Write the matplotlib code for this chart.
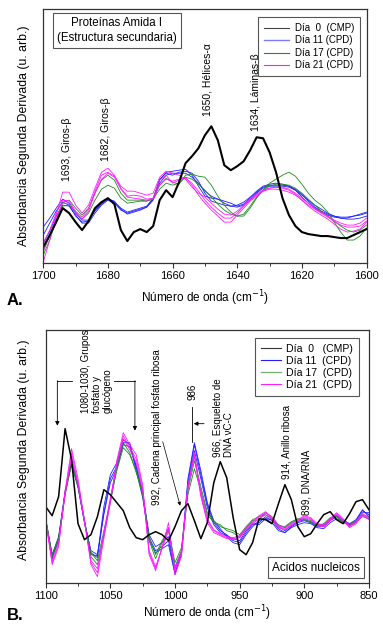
import matplotlib
matplotlib.use('Agg')
import matplotlib.pyplot as plt
from matplotlib.ticker import MultipleLocator

plt.rcParams['font.family'] = ['Liberation Sans', 'DejaVu Sans']

# ---------------- Panel A: Amida I (1700-1600 cm-1), second derivative (u. arb.)
wn_a = [1700, 1698, 1696, 1694, 1692, 1690, 1688, 1686, 1684, 1682,
        1680, 1678, 1676, 1674, 1672, 1670, 1668, 1666, 1664, 1662,
        1660, 1658, 1656, 1654, 1652, 1650, 1648, 1646, 1644, 1642,
        1640, 1638, 1636, 1634, 1632, 1630, 1628, 1626, 1624, 1622,
        1620, 1618, 1616, 1614, 1612, 1610, 1608, 1606, 1604, 1602, 1600]

a_dia0 = [16, 28, 41, 55, 50, 41, 33, 42, 55, 61, 65, 59, 33, 22, 31, 34, 31, 37, 63, 73,
          66, 81, 100, 107, 115, 128, 137, 123, 98, 93, 97, 102, 113, 126, 125, 111, 91, 65, 48, 37,
          31, 29, 28, 27, 27, 26, 25, 25, 28, 31, 34]

a_dia11 = [
    [36, 45, 55, 64, 60, 50, 43, 43, 53, 60, 65, 61, 55, 51, 53, 55, 57, 65, 83, 91,
     92, 93, 94, 88, 77, 67, 65, 64, 62, 60, 57, 59, 65, 71, 76, 78, 78, 78, 77, 73,
     66, 60, 55, 51, 48, 46, 45, 45, 47, 49, 51],
    [20, 32, 47, 58, 57, 48, 40, 40, 50, 58, 63, 60, 53, 50, 52, 54, 56, 63, 80, 88,
     90, 90, 90, 86, 80, 72, 67, 64, 60, 57, 56, 58, 63, 70, 75, 77, 77, 77, 76, 73,
     68, 63, 58, 54, 50, 47, 45, 44, 44, 45, 47],
    [28, 40, 52, 61, 58, 47, 41, 42, 52, 59, 64, 62, 54, 49, 51, 53, 56, 64, 84, 90,
     88, 91, 92, 90, 82, 70, 62, 60, 58, 57, 58, 61, 66, 72, 77, 79, 80, 79, 77, 74,
     69, 62, 56, 52, 49, 47, 46, 46, 47, 48, 50],
]

a_dia17 = [
    [8, 23, 43, 61, 63, 55, 48, 55, 70, 83, 88, 83, 70, 63, 63, 63, 62, 65, 78, 85,
     81, 79, 88, 89, 87, 86, 78, 67, 58, 51, 47, 47, 55, 65, 73, 80, 84, 88, 91, 87,
     79, 70, 63, 58, 51, 41, 31, 23, 23, 27, 35],
    [12, 27, 45, 57, 58, 51, 44, 50, 63, 74, 78, 75, 65, 60, 61, 62, 62, 64, 74, 80,
     78, 80, 86, 84, 79, 73, 66, 59, 53, 49, 47, 49, 57, 66, 73, 77, 79, 79, 78, 75,
     70, 64, 58, 52, 47, 42, 37, 33, 31, 33, 38],
]

a_dia21 = [
    [1, 23, 48, 71, 71, 58, 50, 58, 75, 91, 95, 88, 75, 67, 68, 67, 64, 65, 83, 88,
     80, 83, 86, 78, 68, 60, 53, 47, 41, 41, 48, 55, 62, 67, 72, 75, 76, 75, 73, 69,
     63, 57, 52, 48, 44, 39, 34, 31, 32, 34, 41],
    [20, 33, 50, 63, 62, 52, 46, 54, 72, 88, 91, 87, 77, 72, 72, 70, 68, 70, 86, 92,
     90, 88, 84, 76, 70, 66, 60, 54, 49, 48, 52, 58, 64, 69, 73, 75, 76, 76, 74, 70,
     65, 60, 55, 51, 47, 43, 40, 38, 38, 40, 45],
    [12, 28, 45, 60, 60, 50, 44, 52, 70, 84, 90, 86, 74, 66, 65, 64, 63, 64, 78, 84,
     82, 84, 85, 80, 72, 63, 56, 50, 45, 45, 50, 57, 63, 68, 72, 74, 74, 73, 71, 68,
     63, 58, 54, 50, 46, 42, 38, 36, 36, 37, 42],
]

# ---------------- Panel B: Acidos nucleicos (1100-850 cm-1)
wn_b = [1100, 1095, 1090, 1085, 1080, 1075, 1070, 1065, 1060, 1055,
        1050, 1045, 1040, 1035, 1030, 1025, 1020, 1015, 1010, 1005,
        1000, 995, 990, 985, 980, 975, 970, 965, 960, 955,
        950, 945, 940, 935, 930, 925, 920, 915, 910, 905,
        900, 895, 890, 885, 880, 875, 870, 865, 860, 855, 850]

b_dia0 = [76, 67, 86, 154, 123, 59, 43, 48, 66, 93, 88, 80, 72, 55, 45, 43, 48, 51, 48, 42,
          56, 72, 79, 62, 44, 60, 100, 121, 105, 65, 33, 28, 40, 64, 63, 59, 79, 98, 83, 56,
          46, 49, 59, 68, 71, 63, 59, 69, 81, 83, 73]

b_dia11 = [
    [63, 26, 42, 88, 122, 98, 62, 30, 25, 70, 104, 116, 140, 140, 115, 88, 45, 32, 36, 42,
     10, 28, 100, 138, 108, 78, 60, 52, 48, 42, 40, 50, 58, 60, 66, 62, 54, 50, 56, 60,
     62, 60, 56, 56, 62, 66, 62, 58, 62, 72, 68],
    [62, 24, 44, 90, 120, 97, 60, 28, 27, 76, 108, 120, 143, 138, 112, 85, 42, 30, 34, 38,
     8, 30, 104, 140, 112, 80, 62, 54, 46, 40, 38, 48, 56, 62, 64, 60, 52, 50, 55, 58,
     60, 59, 55, 54, 60, 64, 61, 57, 60, 70, 70],
    [64, 28, 46, 92, 118, 95, 60, 32, 28, 68, 100, 114, 138, 136, 117, 90, 48, 36, 40, 46,
     14, 30, 96, 132, 104, 75, 58, 50, 47, 44, 42, 52, 59, 58, 64, 63, 56, 52, 57, 61,
     63, 61, 57, 57, 63, 67, 63, 59, 63, 73, 66],
]

b_dia17 = [
    [64, 28, 45, 88, 118, 96, 62, 30, 22, 52, 82, 112, 135, 128, 112, 88, 46, 28, 42, 52,
     20, 35, 88, 114, 92, 68, 60, 58, 52, 50, 45, 55, 62, 63, 70, 66, 58, 55, 60, 63,
     64, 62, 58, 58, 64, 66, 60, 58, 62, 68, 66],
    [63, 26, 43, 90, 122, 98, 62, 26, 18, 48, 80, 115, 140, 130, 110, 90, 42, 24, 40, 55,
     16, 32, 92, 122, 96, 70, 62, 56, 54, 52, 48, 56, 63, 66, 68, 64, 57, 56, 61, 64,
     63, 60, 57, 59, 65, 67, 61, 57, 61, 66, 64],
]

b_dia21 = [
    [63, 20, 38, 90, 130, 100, 62, 20, 10, 48, 82, 120, 147, 135, 124, 95, 30, 14, 35, 55,
     12, 29, 96, 128, 88, 62, 52, 48, 45, 44, 46, 54, 60, 66, 70, 64, 56, 54, 58, 62,
     66, 64, 58, 57, 63, 69, 63, 56, 60, 68, 64],
    [62, 18, 36, 92, 134, 104, 62, 18, 6, 44, 80, 122, 150, 138, 128, 98, 28, 12, 36, 60,
     8, 26, 94, 130, 90, 64, 53, 49, 46, 45, 47, 55, 61, 67, 71, 65, 57, 55, 59, 63,
     67, 65, 59, 58, 64, 70, 64, 57, 61, 69, 65],
    [64, 22, 40, 88, 126, 98, 60, 22, 14, 50, 85, 118, 144, 133, 120, 92, 32, 16, 34, 52,
     14, 32, 98, 126, 86, 60, 50, 47, 44, 43, 45, 53, 59, 64, 68, 63, 55, 53, 57, 61,
     65, 63, 57, 56, 62, 68, 62, 55, 59, 67, 63],
]

c_blue = '#1f1fff'
c_green = '#1e8c1e'
c_mag = '#ff1aff'
spine_c = '#333333'

fig = plt.figure(figsize=(3.83, 6.33), dpi=100)
axA = fig.add_axes([0.113, 0.5845, 0.844, 0.402])
axB = fig.add_axes([0.1193, 0.0795, 0.844, 0.3992])


def style_axes(ax, major, minor):
    for s in ax.spines.values():
        s.set_color(spine_c)
        s.set_linewidth(0.9)
    ax.set_yticks([])
    ax.xaxis.set_major_locator(MultipleLocator(major))
    ax.xaxis.set_minor_locator(MultipleLocator(minor))
    ax.tick_params(axis='x', which='major', direction='out', length=3.5, width=0.8,
                   labelsize=8, pad=2.5, color=spine_c)
    ax.tick_params(axis='x', which='minor', direction='out', length=2.2, width=0.7, color=spine_c)


# ---- Panel A
for y in a_dia11:
    axA.plot(wn_a, y, color=c_blue, lw=0.6)
for y in a_dia17:
    axA.plot(wn_a, y, color=c_green, lw=0.6)
for y in a_dia21:
    axA.plot(wn_a, y, color=c_mag, lw=0.6)
axA.plot(wn_a, a_dia0, color='black', lw=1.5)

axA.set_xlim(1700, 1600)
axA.set_ylim(0, 255)
style_axes(axA, 20, 10)
axA.set_xlabel('Número de onda (cm$^{-1}$)', fontsize=8.5)
axA.xaxis.set_label_coords(0.5, -0.1)
axA.set_ylabel('Absorbancia Segunda Derivada (u. arb.)', fontsize=8.8)
axA.yaxis.set_label_coords(-0.04, 0.5)

hA = [plt.Line2D([], [], color='#444444', lw=0.8),
      plt.Line2D([], [], color='#7b7bff', lw=1.0),
      plt.Line2D([], [], color=c_green, lw=0.8),
      plt.Line2D([], [], color=c_mag, lw=0.8)]
legA = axA.legend(hA, ['Día  0  (CMP)', 'Día 11 (CPD)', 'Día 17 (CPD)', 'Día 21 (CPD)'],
                  loc='upper right', bbox_to_anchor=(0.995, 0.985), fontsize=7,
                  handlelength=2.6, handletextpad=0.6, labelspacing=0.25,
                  borderpad=0.6, fancybox=False, framealpha=1)
legA.get_frame().set_edgecolor('#555555')
legA.get_frame().set_linewidth(0.8)

axA.text(0.228, 0.914, 'Proteínas Amida I\n(Estructura secundaria)', transform=axA.transAxes,
         ha='center', va='center', fontsize=8.3, linespacing=1.25,
         bbox=dict(boxstyle='square,pad=0.35', fc='white', ec='#555555', lw=0.8))

annA = [(1692.8, 82, '1693, Giros-β'),
        (1680.7, 102, '1682, Giros-β'),
        (1649.3, 147, '1650, Hélices-α'),
        (1634.3, 132, '1634, Láminas-β')]
for x, y, s in annA:
    axA.text(x, y, s, rotation=90, ha='center', va='bottom', fontsize=7.5)

fig.text(0.018, 0.525, 'A.', fontsize=12, fontweight='bold', va='center')

# ---- Panel B
for y in b_dia11:
    axB.plot(wn_b, y, color=c_blue, lw=0.6)
for y in b_dia17:
    axB.plot(wn_b, y, color=c_green, lw=0.6)
for y in b_dia21:
    axB.plot(wn_b, y, color=c_mag, lw=0.6)
axB.plot(wn_b, b_dia0, color='black', lw=1.1)

axB.set_xlim(1100, 850)
axB.set_ylim(0, 252.7)
style_axes(axB, 50, 25)
axB.set_xlabel('Número de onda (cm$^{-1}$)', fontsize=8.5)
axB.xaxis.set_label_coords(0.5, -0.082)
axB.set_ylabel('Absorbancia Segunda Derivada (u. arb.)', fontsize=8.8)
axB.yaxis.set_label_coords(-0.047, 0.525)

hB = [plt.Line2D([], [], color='#333333', lw=0.8),
      plt.Line2D([], [], color=c_blue, lw=0.8),
      plt.Line2D([], [], color='#6fb36f', lw=0.9),
      plt.Line2D([], [], color=c_mag, lw=0.8)]
legB = axB.legend(hB, ['Día  0   (CMP)', 'Día 11  (CPD)', 'Día 17  (CPD)', 'Día 21  (CPD)'],
                  loc='upper right', bbox_to_anchor=(0.985, 0.99), fontsize=7.6,
                  handlelength=1.9, handletextpad=0.5, labelspacing=0.2,
                  borderpad=0.55, fancybox=False, framealpha=1)
legB.get_frame().set_edgecolor('#555555')
legB.get_frame().set_linewidth(0.8)

axB.text(0.836, 0.06, 'Acidos nucleicos', transform=axB.transAxes, ha='center', va='center',
         fontsize=8.5, bbox=dict(boxstyle='square,pad=0.35', fc='white', ec='#555555', lw=0.8))

annB = [(1060.5, 170, '1080-1030, Grupos\nfosfato y\nglucógeno'),
        (986.5, 183, '986'),
        (962.5, 126, '966, Esqueleto de\nDNA νC-C'),
        (1014, 78, '992, Cadena principal fosfato ribosa'),
        (914, 104, '914, Anillo ribosa'),
        (898, 68, '899, DNA/RNA')]
for x, y, s in annB:
    axB.text(x, y, s, rotation=90, ha='center', va='bottom', fontsize=7,
             multialignment='left', linespacing=1.1)

arr = dict(arrowstyle='-|>', lw=0.6, color='black', mutation_scale=6, shrinkA=0, shrinkB=0)
# bracket for 1080-1030
axB.plot([1080, 1091], [202, 202], color='black', lw=0.6)
axB.annotate('', xy=(1091, 157), xytext=(1091, 202), arrowprops=arr)
axB.plot([1047.5, 1031], [202, 202], color='black', lw=0.6)
axB.annotate('', xy=(1031, 152), xytext=(1031, 202), arrowprops=arr)
# 986 marker
axB.plot([987, 987], [141, 176], color='black', lw=0.6)
axB.annotate('', xy=(985.5, 159), xytext=(977.5, 159), arrowprops=arr)
# 992 arrow
axB.annotate('', xy=(996, 77), xytext=(1009.5, 141),
             arrowprops=dict(arrowstyle='-|>', lw=0.5, color='black', mutation_scale=5,
                             shrinkA=0, shrinkB=0))

fig.text(0.018, 0.027, 'B.', fontsize=12, fontweight='bold', va='center')

fig.savefig('out.png', dpi=100)
